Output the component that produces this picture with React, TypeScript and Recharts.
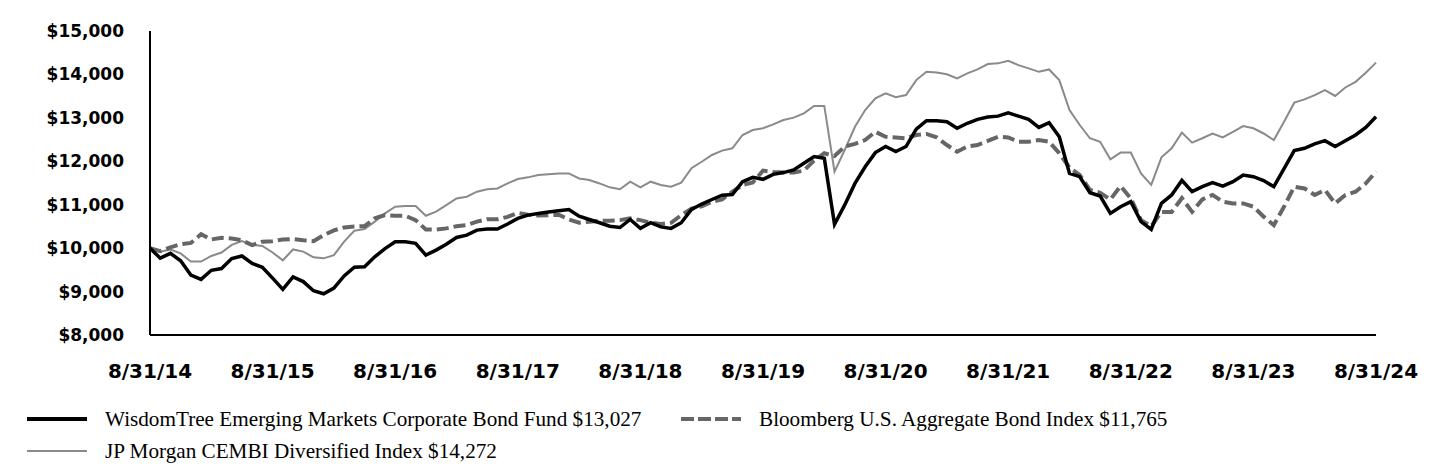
import { LineChart, Line, XAxis, YAxis } from "recharts";

// monthly growth of $10,000, 8/31/14 .. 8/31/24
const fundValues = [
  10000, 9770, 9880, 9710, 9380, 9280, 9490, 9530, 9760, 9820, 9650, 9560,
  9310, 9050, 9340, 9230, 9020, 8950, 9080, 9360, 9560, 9570, 9800, 9990,
  10145, 10145, 10110, 9840, 9955, 10090, 10245, 10300, 10415, 10440, 10440, 10555,
  10685, 10760, 10800, 10830, 10860, 10890, 10735, 10660, 10585, 10505, 10475, 10660,
  10455, 10585, 10490, 10455, 10585, 10890, 11015, 11120, 11220, 11235, 11530, 11630,
  11585, 11700, 11740, 11800, 11955, 12110, 12070, 10550, 10995, 11490, 11875, 12200,
  12340, 12225, 12340, 12740, 12935, 12935, 12910, 12760, 12875, 12965, 13020, 13040,
  13115, 13040, 12965, 12780, 12890, 12565, 11720, 11645, 11275, 11200, 10800, 10955,
  11070, 10610, 10430, 11030, 11225, 11560, 11300, 11415, 11510, 11430, 11530, 11685,
  11645, 11555, 11415, 11830, 12245, 12300, 12400, 12475, 12340, 12475, 12605, 12780,
  13027,
];

const aggValues = [
  10000, 9930, 10020, 10090, 10120, 10320, 10200, 10240, 10220, 10180, 10070, 10150,
  10160, 10200, 10210, 10180, 10160, 10300, 10410, 10475, 10500, 10505, 10685, 10760,
  10745, 10745, 10645, 10430, 10430, 10455, 10505, 10530, 10610, 10665, 10665, 10720,
  10810, 10770, 10750, 10760, 10770, 10660, 10585, 10610, 10630, 10630, 10645, 10685,
  10645, 10585, 10555, 10585, 10760, 10910, 10965, 11065, 11120, 11300, 11455, 11510,
  11785, 11755, 11740, 11740, 11785, 12015, 12185, 12120, 12340, 12400, 12490, 12680,
  12565, 12550, 12530, 12605, 12630, 12550, 12375, 12220, 12340, 12375, 12470, 12565,
  12550, 12450, 12450, 12490, 12450, 12185, 11855, 11685, 11340, 11275, 11120, 11430,
  11145, 10645, 10505, 10835, 10835, 11150, 10835, 11120, 11225, 11070, 11030, 11030,
  10955, 10725, 10530, 10955, 11415, 11375, 11225, 11340, 11030, 11225, 11300, 11490,
  11765,
];

const cembiValues = [
  10000, 9920, 9970, 9880, 9690, 9690, 9820, 9900, 10075, 10165, 10075, 10050,
  9900, 9720, 9970, 9920, 9790, 9765, 9840, 10150, 10400, 10440, 10610, 10800,
  10955, 10970, 10970, 10745, 10840, 10990, 11145, 11185, 11300, 11355, 11375, 11490,
  11590, 11630, 11685, 11700, 11720, 11720, 11605, 11570, 11490, 11400, 11355, 11530,
  11400, 11530, 11455, 11415, 11510, 11840, 11990, 12145, 12245, 12300, 12605, 12720,
  12760, 12850, 12950, 13005, 13105, 13275, 13275, 11760, 12260, 12795, 13180, 13450,
  13565, 13475, 13525, 13870, 14060, 14045, 14005, 13910, 14025, 14115, 14240, 14255,
  14315, 14215, 14140, 14060, 14115, 13870, 13180, 12835, 12530, 12450, 12045, 12200,
  12200, 11720, 11455, 12090, 12300, 12660, 12430, 12530, 12640, 12550, 12680, 12810,
  12760, 12640, 12490, 12910, 13350, 13425, 13525, 13640, 13505, 13700, 13830, 14040,
  14272,
];

const tickLabels = [
  "8/31/14", "8/31/15", "8/31/16", "8/31/17", "8/31/18", "8/31/19",
  "8/31/20", "8/31/21", "8/31/22", "8/31/23", "8/31/24",
];

const yTicks = [8000, 9000, 10000, 11000, 12000, 13000, 14000, 15000];

const fundName = "WisdomTree Emerging Markets Corporate Bond Fund $13,027";
const aggName = "Bloomberg U.S. Aggregate Bond Index $11,765";
const cembiName = "JP Morgan CEMBI Diversified Index $14,272";

const chartData = fundValues.map((v, i) => ({
  idx: i,
  fund: v,
  agg: aggValues[i],
  cembi: cembiValues[i],
}));

const xTicks = tickLabels.map((_, i) => i * 12);

const formatDollar = (v: number) => `$${v.toLocaleString("en-US")}`;

const LegendItem = ({ x, y, color, width, dash, label }: any) => (
  <div style={{ position: "absolute", left: x, top: y - 14, height: 28, display: "flex", alignItems: "center" }}>
    <svg width={60} height={10} style={{ display: "block" }}>
      <line x1={0} x2={60} y1={5} y2={5} stroke={color} strokeWidth={width} strokeDasharray={dash} />
    </svg>
    <span
      style={{
        marginLeft: 18,
        fontFamily: "'Liberation Serif', 'Times New Roman', serif",
        fontSize: 21.2,
        color: "#000",
        whiteSpace: "nowrap",
      }}
    >
      {label}
    </span>
  </div>
);

export default function App() {
  return (
    <div style={{ position: "relative", width: 1440, height: 468, background: "#fff" }}>
      <style>{`body{margin:0}`}</style>
      <LineChart
        width={1440}
        height={400}
        data={chartData}
        margin={{ top: 31, right: 64, bottom: 0, left: 0 }}
      >
        <XAxis
          dataKey="idx"
          type="number"
          domain={[0, 120]}
          ticks={xTicks}
          tickFormatter={(v: number) => tickLabels[v / 12]}
          axisLine={{ stroke: "#000", strokeWidth: 2 }}
          tickLine={false}
          tickSize={0}
          tickMargin={29}
          height={65}
          tick={{ fill: "#000", fontSize: 20, fontWeight: 700, fontFamily: "'DejaVu Sans', sans-serif" }}
        />
        <YAxis
          domain={[8000, 15000]}
          ticks={yTicks}
          tickFormatter={formatDollar}
          axisLine={{ stroke: "#000", strokeWidth: 2 }}
          tickLine={false}
          tickSize={0}
          tickMargin={26}
          width={150}
          tick={{ fill: "#000", fontSize: 17, fontWeight: 700, fontFamily: "'DejaVu Sans', sans-serif" }}
        />
        <Line
          dataKey="cembi"
          stroke="#8a8a8a"
          strokeWidth={2}
          dot={false}
          isAnimationActive={false}
        />
        <Line
          dataKey="agg"
          stroke="#666666"
          strokeWidth={4}
          strokeDasharray="12 5"
          dot={false}
          isAnimationActive={false}
        />
        <Line
          dataKey="fund"
          stroke="#000"
          strokeWidth={3.5}
          dot={false}
          isAnimationActive={false}
        />
      </LineChart>
      <LegendItem x={27} y={419} color="#000" width={4} label={fundName} />
      <LegendItem x={681} y={419} color="#666666" width={4} dash="13 4" label={aggName} />
      <LegendItem x={27} y={451} color="#8a8a8a" width={2} label={cembiName} />
    </div>
  );
}
